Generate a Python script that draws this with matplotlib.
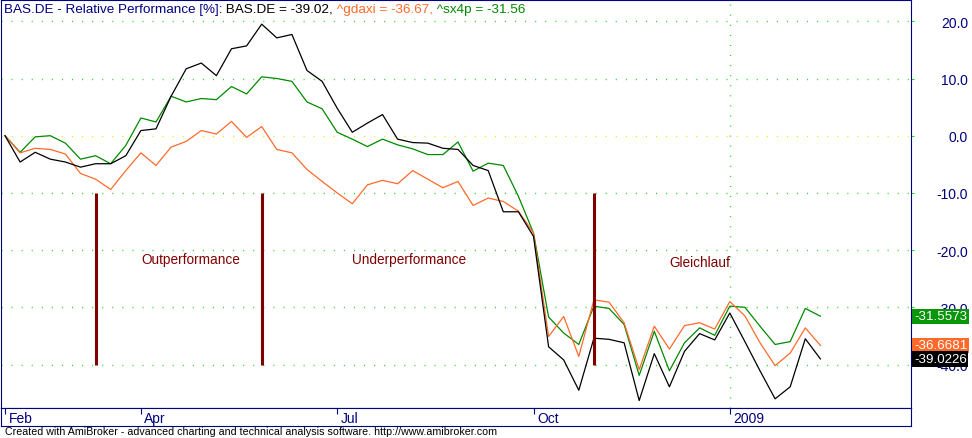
import numpy as np
import pandas as pd
import matplotlib
matplotlib.use('Agg')
import matplotlib.pyplot as plt
from matplotlib import transforms

plt.rcParams['font.family'] = ['Liberation Sans Narrow', 'Liberation Sans', 'DejaVu Sans']
plt.rcParams['axes.unicode_minus'] = False

# weekly bars, relative performance in % since first bar
start = pd.Timestamp('2008-01-28')
n_weeks = 55

bas = [0, -4.6, -2.9, -4.1, -4.6, -5.5, -4.9, -4.9, -3.5, 0.9,
       1.2, 6.9, 11.7, 12.7, 10.5, 15.2, 15.7, 19.5, 17.1, 17.7,
       11.4, 9.5, 4.8, 0.6, 2.2, 3.7, -0.6, -1.2, -1.3, -2.2,
       -2.4, -5.2, -6.1, -13.3, -13.3, -17.6, -36.9, -39.2, -44.5, -35.4,
       -35.6, -36.2, -46.3, -38.1, -43.9, -37.7, -34.6, -35.7, -31.0, -36.0,
       -41.1, -46.0, -43.9, -35.5, -39.0226]
gdaxi = [0, -3.0, -2.2, -2.4, -3.2, -6.6, -7.6, -9.4, -6.1, -3.0,
         -5.2, -2.0, -1.0, 0.9, 0.3, 2.5, -0.3, 1.6, -2.4, -3.0,
         -5.9, -8.0, -10.0, -11.9, -8.6, -7.8, -8.4, -6.1, -7.6, -9.1,
         -8.0, -12.2, -10.9, -11.5, -13.2, -17.0, -35.1, -31.6, -38.6, -28.7,
         -29.1, -32.7, -40.9, -33.3, -37.3, -33.2, -32.7, -33.8, -29.0, -31.5,
         -36.2, -40.2, -38.0, -33.6, -36.6681]
sx4p = [0, -2.9, -0.2, 0, -1.3, -4.1, -3.5, -4.9, -1.7, 3.1,
        2.4, 6.9, 5.9, 6.5, 6.3, 8.6, 7.3, 10.3, 10.0, 9.5,
        5.9, 4.7, 0.6, -0.6, -1.9, -0.6, -1.6, -2.3, -3.3, -3.3,
        -1.1, -6.2, -4.8, -5.2, -10.6, -17.0, -31.7, -34.5, -36.5, -29.8,
        -30.2, -33.0, -41.9, -34.2, -41.1, -36.2, -33.6, -34.9, -29.8, -30.0,
        -33.3, -36.5, -36.0, -30.2, -31.5573]

names = ['BAS.DE', '^gdaxi', '^sx4p']
line_colors = ['#000000', '#FF6A2A', '#008A00']
box_colors = ['#000000', '#FF6A2A', '#0A960A']

month_dates = ['2008-02-01', '2008-04-01', '2008-07-01', '2008-10-01', '2009-01-01']
month_labels = ['Feb', 'Apr', 'Jul', 'Oct', '2009']

y_levels = [20, 10, 0, -10, -20, -30, -40]

# trend phase markers and notes
marker_weeks = [6, 17, 39]
marker_top, marker_bottom = -10, -40
note_texts = ['Outperformance', 'Underperformance', 'Gleichlauf']
note_x = [9.0, 23.0, 44.0]
note_y = [-21.6, -21.6, -22.1]

footer = ('Created with AmiBroker - advanced charting and technical analysis '
          'software. http://www.amibroker.com')

navy = '#000080'
darkred = '#800000'
gridgreen = '#22DD22'

x = np.arange(n_weeks)
month_idx = [(pd.Timestamp(d) - start).days // 7 for d in month_dates]

W, H = 972, 439
fig = plt.figure(figsize=(W / 100, H / 100), dpi=100)


def px_box(x0, y0, x1, y1):
    return [x0 / W, 1 - y1 / H, (x1 - x0) / W, (y1 - y0) / H]


ax = fig.add_axes(px_box(0.5, 0.5, 911, 409.3))
axd = fig.add_axes(px_box(0.5, 409.3, 911, 426.5))

xlim = ((0.5 - 5) / 15.1, (911 - 5) / 15.1)
ax.set_xlim(xlim)
ax.set_ylim(-(409.3 - 136.7) / 5.72, (136.7 - 0.5) / 5.72)

for a in (ax, axd):
    for sp in a.spines.values():
        sp.set_color(navy)
        sp.set_linewidth(0.8)

# grid
for lev in y_levels:
    c = '#E8E800' if lev == 0 else gridgreen
    ax.axhline(lev, color=c, lw=1.0, linestyle=(0, (0.75, 6.5)), zorder=1)
ax.axvline(month_idx[-1], color=gridgreen, lw=1.0, linestyle=(0, (0.75, 6.5)), zorder=1)

# series
for vals, c in zip([sx4p, gdaxi, bas], [line_colors[2], line_colors[1], line_colors[0]]):
    ax.plot(x, vals, color=c, lw=0.9, zorder=3)

ax.vlines(marker_weeks, marker_bottom, marker_top, color=darkred, lw=2.2, zorder=5)
for s, nx, ny in zip(note_texts, note_x, note_y):
    ax.text(nx, ny, s, color=darkred, fontsize=9.8, ha='left', va='center', zorder=5)

# right axis
ax.yaxis.tick_right()
ax.set_yticks(y_levels)
ax.set_yticklabels(['%.1f' % v for v in y_levels])
ax.tick_params(axis='y', direction='out', length=2.5, width=0.8, color=gridgreen,
               labelcolor=navy, labelsize=10, pad=38.5)
for lab in ax.get_yticklabels():
    lab.set_horizontalalignment('right')
for t, lev in zip(ax.yaxis.get_major_ticks(), y_levels):
    if lev == 0:
        t.tick2line.set_color('#E8E800')
ax.tick_params(axis='x', bottom=False, labelbottom=False)

# last value boxes
last_vals = [bas[-1], gdaxi[-1], sx4p[-1]]
trans = transforms.offset_copy(transforms.blended_transform_factory(ax.transAxes, ax.transData),
                               fig=fig, x=3, y=0, units='dots')
for i in [2, 1, 0]:
    ax.text(1.0, last_vals[i], '%.4f' % last_vals[i], transform=trans, color='white',
            fontsize=9.6, ha='left', va='center', clip_on=False, zorder=6,
            bbox=dict(boxstyle='square,pad=0.12', fc=box_colors[i], ec='none'))

# title with coloured parts
prev = fig.text(4 / W, 1 - 9.5 / H, 'BAS.DE - Relative Performance [%]:', color=navy,
                fontsize=9.7, va='center', ha='left')
parts = [' %s = %.2f,' % (names[0], last_vals[0]),
         ' %s = %.2f,' % (names[1], last_vals[1]),
         ' %s = %.2f' % (names[2], last_vals[2])]
for s, c in zip(parts, line_colors):
    prev = ax.annotate(s, xy=(1, 0), xycoords=prev, color=c, fontsize=9.7,
                       ha='left', va='bottom', annotation_clip=False)

# date strip
axd.set_xlim(xlim)
axd.set_ylim(0, 1)
axd.set_xticks([])
axd.set_yticks([])
axd.vlines(month_idx, 1 - 6 / 17.2, 1, color=navy, lw=0.8)
dtrans = transforms.offset_copy(axd.transData, fig=fig, x=3.5, y=0, units='dots')
for mi, lab in zip(month_idx, month_labels):
    axd.text(mi, 0.42, lab, transform=dtrans, color=navy, fontsize=10,
             ha='left', va='center')

fig.text(5 / W, 1 - 432 / H, footer, color='black', fontsize=7.65, ha='left', va='center')

fig.savefig('out.png', dpi=100)
